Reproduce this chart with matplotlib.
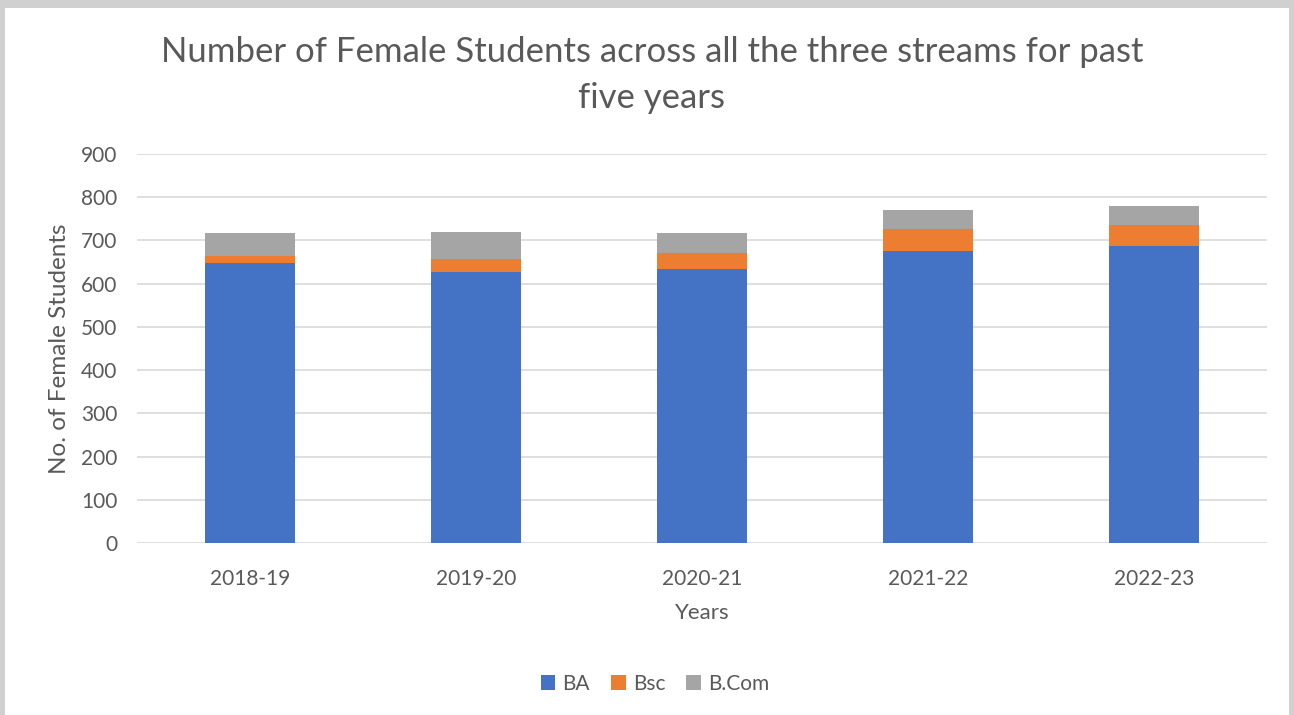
import numpy as np
import matplotlib.pyplot as plt
from matplotlib.patches import Rectangle

years = ['2018-19', '2019-20', '2020-21', '2021-22', '2022-23']
ba = [648, 628, 633, 676, 688]
bsc = [16, 29, 37, 51, 47]
bcom = [53, 63, 47, 43, 45]

plt.rcParams['font.family'] = ['Lato', 'DejaVu Sans']
txt = '#595959'

fig = plt.figure(figsize=(12.94, 7.15), dpi=100, facecolor='#d0d0d0')
fig.patches.append(Rectangle((5/1294, 0), 1284/1294, 1 - 8/715, transform=fig.transFigure,
                             facecolor='white', edgecolor='none', zorder=-1))
ax = fig.add_axes([137/1294, 1 - 543/715, 1130/1294, 389/715])
ax.set_facecolor('white')

x = np.arange(len(years))
bottom2 = np.array(ba) + np.array(bsc)
ax.bar(x, ba, width=0.4, color='#4472c4', label='BA', zorder=3)
ax.bar(x, bsc, width=0.4, bottom=ba, color='#ed7d31', label='Bsc', zorder=3)
ax.bar(x, bcom, width=0.4, bottom=bottom2, color='#a5a5a5', label='B.Com', zorder=3)

ax.set_xlim(-0.5, 4.5)
ax.set_ylim(0, 900)
ax.set_yticks(range(0, 901, 100))
ax.set_xticks(x)
ax.set_xticklabels(years)
ax.grid(axis='y', color='#d9d9d9', linewidth=1.2, zorder=0)
for s in ax.spines.values():
    s.set_visible(False)
ax.tick_params(length=0, labelsize=15, colors=txt)
ax.tick_params(axis='x', pad=19)
ax.tick_params(axis='y', pad=14)

ax.set_xlabel('Years', fontsize=16, color=txt, labelpad=10)
ax.set_ylabel('No. of Female Students', fontsize=17.5, color=txt, labelpad=8)

fig.text(652/1294, 1 - 75/715, 'Number of Female Students across all the three streams for past\nfive years',
         ha='center', va='center', fontsize=25, color=txt, linespacing=1.55)

fig.legend(*ax.get_legend_handles_labels(), loc='center', bbox_to_anchor=(655/1294, 1 - 684/715),
           ncol=3, frameon=False, fontsize=15, labelcolor=txt, handlelength=0.7, handleheight=0.7,
           handletextpad=0.35, columnspacing=1.0)

fig.savefig('out.png', dpi=100, facecolor=fig.get_facecolor())
